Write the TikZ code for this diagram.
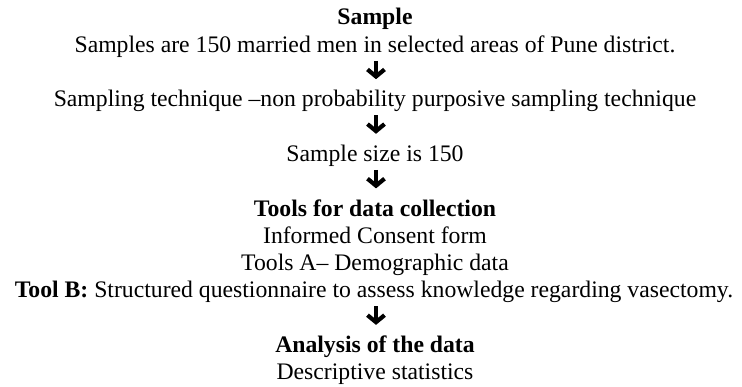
\documentclass[tikz,border=0pt]{standalone}
\usepackage{fontspec}
\setmainfont{Liberation Serif}
\usetikzlibrary{arrows.meta}
\begin{document}
\begin{tikzpicture}[x=1pt,y=1pt,
  txt/.style={anchor=base, inner sep=0pt, text height=16pt, text depth=5pt, font=\fontsize{23.7}{27}\selectfont},
  dnarrow/.style={line width=4.2pt, -{Straight Barb[length=7pt,width=17pt,line width=4.2pt]}, shorten <=3.3pt, shorten >=11.5pt}
]
\useasboundingbox (0,0) rectangle (742,-387);
\node[txt] (s1) at (375,-25) {\textbf{Sample}};
\node[txt] (s2) at (375,-52.3) {Samples are 150 married men in selected areas of Pune district.};
\node[txt] (t1) at (375,-106.9) {Sampling technique –non probability purposive sampling technique};
\node[txt] (z1) at (375,-161.5) {Sample size is 150};
\node[txt] (d1) at (375,-216.1) {\textbf{Tools for data collection}};
\node[txt] (d2) at (375,-243.4) {Informed Consent form};
\node[txt] (d3) at (375,-270.7) {Tools A– Demographic data};
\node[txt] (d4) at (374,-298) {\textbf{Tool B:} Structured questionnaire to assess knowledge regarding vasectomy.};
\node[txt] (a1) at (375,-352.6) {\textbf{Analysis of the data}};
\node[txt] (a2) at (375,-379.9) {Descriptive statistics};
\draw[dnarrow] (s2.south -| 376,0) -- (t1.north -| 376,0);
\draw[dnarrow] (t1.south -| 376,0) -- (z1.north -| 376,0);
\draw[dnarrow] (z1.south -| 376,0) -- (d1.north -| 376,0);
\draw[dnarrow] (d4.south -| 376,0) -- (a1.north -| 376,0);
\end{tikzpicture}
\end{document}
